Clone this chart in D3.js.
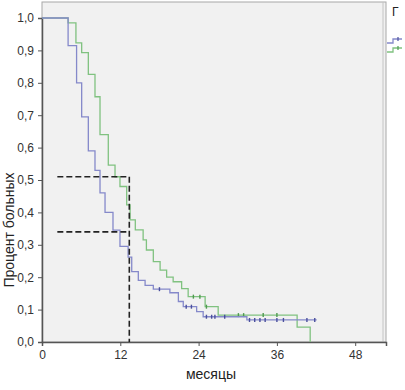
<!DOCTYPE html>
<html><head><meta charset="utf-8">
<script src="https://cdn.jsdelivr.net/npm/d3@7/dist/d3.min.js"></script>
<style>body{margin:0;background:#fff}svg{display:block}</style>
</head><body>
<script>
// Kaplan–Meier data (months, survival proportion)
const blueTimes = [0, 4.0, 5.3, 6.08, 7.1, 8.12, 8.89, 9.66, 10.88, 11.95, 13.2, 13.75, 14.76, 15.8, 17.06, 19.6, 20.9, 21.65, 23.7, 24.7, 31.4];
const blueSurv  = [1.0, 0.915, 0.80, 0.695, 0.59, 0.53, 0.46, 0.40, 0.345, 0.295, 0.262, 0.217, 0.19, 0.175, 0.163, 0.152, 0.125, 0.109, 0.094, 0.078, 0.068];
const blueEnd = 42.1;
const blueCensor = [18.0, 22.1, 22.9, 25.2, 26.0, 26.5, 28.0, 31.8, 32.6, 33.4, 34.2, 36.0, 37.0, 40.6, 41.8];

const greenTimes = [0, 4.0, 5.2, 6.08, 7.1, 8.12, 8.89, 10.16, 11.19, 11.95, 12.98, 13.5, 14.3, 15.5, 16.0, 17.06, 18.1, 19.1, 20.1, 21.4, 22.4, 25.0, 27.0, 39.1, 41.1];
const greenSurv  = [1.0, 0.985, 0.923, 0.893, 0.826, 0.757, 0.64, 0.546, 0.51, 0.48, 0.423, 0.377, 0.346, 0.315, 0.284, 0.248, 0.222, 0.20, 0.186, 0.165, 0.14, 0.109, 0.083, 0.046, 0];
const greenEnd = 41.1;
const greenCensor = [23.2, 24.2, 25.2, 30.1, 30.9, 33.9, 36.0];

const medianLines = [0.51, 0.34];
const medianX = [2.35, 13.38];

const xTicks = [0, 12, 24, 36, 48];
const yTicks = [0, 0.1, 0.2, 0.3, 0.4, 0.5, 0.6, 0.7, 0.8, 0.9, 1.0];
const xTitle = "месяцы";
const yTitle = "Процент больных";
const legendTitle = "Г";

const W = 405, H = 390;
const svg = d3.select("body").append("svg").attr("width", W).attr("height", H);
const x = d3.scaleLinear().domain([0, 52.72]).range([42, 386]);
const y = d3.scaleLinear().domain([0, 1]).range([342, 18]);
const fmt = d => d3.format(".1f")(d).replace(".", ",");

// plot frame
svg.append("rect").attr("x", x(0)).attr("y", 2).attr("width", x.range()[1] - x(0)).attr("height", y(0) - 2)
  .attr("fill", "#f1f1f1").attr("stroke", "#a8a8a8").attr("stroke-width", 1);
svg.append("line").attr("x1", 383).attr("x2", 383).attr("y1", 2).attr("y2", y(0))
  .attr("stroke", "#c4c4c4").attr("stroke-width", 1);

// axes
const gx = svg.append("g").attr("transform", `translate(0,${y(0)})`)
  .call(d3.axisBottom(x).tickValues(xTicks).tickSize(4).tickPadding(4).tickFormat(d3.format("d")));
const gy = svg.append("g").attr("transform", `translate(${x(0)},0)`)
  .call(d3.axisLeft(y).tickValues(yTicks).tickSize(4).tickPadding(4).tickFormat(fmt));
[gx, gy].forEach(g => {
  g.select(".domain").attr("stroke", "#555").attr("stroke-width", 1.5);
  g.selectAll(".tick line").attr("stroke", "#555");
  g.selectAll("text").attr("font-family", "Liberation Sans, Arial, sans-serif").attr("font-size", 12).attr("fill", "#333");
});

// curves
function stepPath(times, surv, end) {
  const pts = [];
  for (let i = 0; i < times.length; i++) {
    if (i > 0) pts.push([times[i], surv[i - 1]]);
    pts.push([times[i], surv[i]]);
  }
  if (end > times[times.length - 1]) pts.push([end, surv[surv.length - 1]]);
  return d3.line().x(d => x(d[0])).y(d => y(d[1]))(pts);
}
function survAt(times, surv, t) {
  let v = surv[0];
  for (let i = 0; i < times.length; i++) if (times[i] <= t) v = surv[i];
  return v;
}
const series = [
  {t: greenTimes, s: greenSurv, end: greenEnd, c: greenCensor, color: "#80c280", mark: "#4f9a4f"},
  {t: blueTimes, s: blueSurv, end: blueEnd, c: blueCensor, color: "#8589ca", mark: "#4a4f9e"}
];
series.forEach(sr => {
  svg.append("path").attr("d", stepPath(sr.t, sr.s, sr.end)).attr("fill", "none")
    .attr("stroke", sr.color).attr("stroke-width", 1.3);
  svg.append("g").selectAll("line").data(sr.c).join("line")
    .attr("x1", d => x(d)).attr("x2", d => x(d))
    .attr("y1", d => y(survAt(sr.t, sr.s, d)) - 2).attr("y2", d => y(survAt(sr.t, sr.s, d)) + 2)
    .attr("stroke", sr.mark).attr("stroke-width", 1.4);
});

// median dashed lines
medianLines.forEach(v => {
  svg.append("line").attr("x1", x(medianX[0])).attr("x2", x(medianX[1])).attr("y1", y(v)).attr("y2", y(v))
    .attr("stroke", "#222").attr("stroke-width", 1.6).attr("stroke-dasharray", "6,3");
});
svg.append("line").attr("x1", x(medianX[1])).attr("x2", x(medianX[1])).attr("y1", y(medianLines[0])).attr("y2", y(0))
  .attr("stroke", "#222").attr("stroke-width", 1.6).attr("stroke-dasharray", "6,3");

// titles
svg.append("text").attr("x", 211).attr("y", 379).attr("text-anchor", "middle")
  .attr("font-family", "Liberation Sans, Arial, sans-serif").attr("font-size", 14).attr("fill", "#222").text(xTitle);
svg.append("text").attr("transform", "translate(14,230) rotate(-90)").attr("text-anchor", "middle")
  .attr("font-family", "Liberation Sans, Arial, sans-serif").attr("font-size", 14).attr("fill", "#222").text(yTitle);

// legend (cut off at the right edge)
svg.append("text").attr("x", 392).attr("y", 16).attr("font-family", "Liberation Sans, Arial, sans-serif")
  .attr("font-size", 12).attr("fill", "#222").text(legendTitle);
const lg = [{yy: 41, color: "#8589ca", mark: "#4a4f9e"}, {yy: 50, color: "#80c280", mark: "#4f9a4f"}];
lg.forEach(l => {
  svg.append("path").attr("d", `M387,${l.yy + 2}H393V${l.yy - 2}H402`).attr("fill", "none")
    .attr("stroke", l.color).attr("stroke-width", 1.3);
  svg.append("line").attr("x1", 398).attr("x2", 398).attr("y1", l.yy - 4).attr("y2", l.yy)
    .attr("stroke", l.mark).attr("stroke-width", 1.2);
});
</script>
</body></html>
